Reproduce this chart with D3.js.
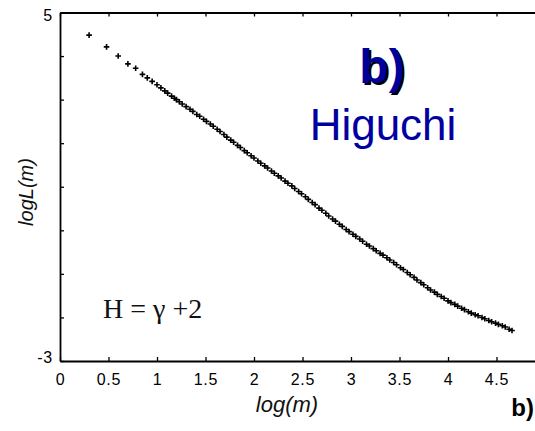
<!DOCTYPE html>
<html><head><meta charset="utf-8">
<script src="https://cdn.jsdelivr.net/npm/d3@7"></script>
<style>html,body{margin:0;padding:0;background:#fff;}svg{display:block;}</style>
</head><body>
<script>
// log(m) values
const logM = [0.30,0.48,0.60,0.70,0.78,0.85,0.90,0.95,1.00,1.04,1.08,1.11,1.15,1.18,1.20,1.23,1.26,
1.30,1.34,1.37,1.41,1.44,1.48,1.51,1.55,1.58,1.62,1.65,1.69,1.72,1.76,1.79,1.83,1.86,1.90,1.93,1.97,
2.00,2.04,2.07,2.11,2.14,2.18,2.21,2.25,2.28,2.32,2.35,2.39,2.42,2.46,2.49,2.53,2.56,2.60,2.63,2.67,
2.70,2.74,2.77,2.81,2.84,2.88,2.91,2.95,2.98,3.02,3.05,3.09,3.12,3.16,3.19,3.23,3.26,3.30,3.33,3.37,
3.40,3.44,3.47,3.51,3.54,3.58,3.61,3.65,3.68,3.72,3.75,3.79,3.82,3.86,3.89,3.93,3.96,4.00,4.03,4.07,
4.10,4.14,4.17,4.21,4.24,4.28,4.31,4.35,4.38,4.42,4.45,4.49,4.52,4.56,4.59,4.63,4.66];
// log L(m) values
const logL = [4.48,4.21,4.00,3.82,3.72,3.58,3.50,3.42,3.34,3.27,3.20,3.15,3.08,3.03,3.00,2.95,2.90,
2.84,2.78,2.73,2.66,2.62,2.55,2.50,2.44,2.39,2.32,2.27,2.20,2.14,2.07,2.02,1.95,1.90,1.83,1.78,1.71,
1.66,1.59,1.54,1.48,1.43,1.36,1.31,1.25,1.20,1.13,1.08,1.02,0.96,0.89,0.84,0.77,0.71,0.64,0.59,0.51,
0.46,0.39,0.33,0.26,0.21,0.14,0.09,0.02,-0.03,-0.09,-0.14,-0.20,-0.25,-0.32,-0.36,-0.42,-0.47,-0.53,-0.57,-0.63,
-0.68,-0.74,-0.79,-0.86,-0.90,-0.97,-1.02,-1.08,-1.14,-1.20,-1.25,-1.32,-1.37,-1.42,-1.47,-1.52,-1.56,-1.62,-1.66,-1.70,
-1.74,-1.79,-1.82,-1.87,-1.90,-1.94,-1.96,-2.00,-2.03,-2.07,-2.10,-2.13,-2.16,-2.19,-2.22,-2.27,-2.30];
const xTicks = [0,0.5,1,1.5,2,2.5,3,3.5,4,4.5,5];
const yTicks = [-3,-2,-1,0,1,2,3,4,5];
const yLabeled = [5,-3];
const xTitle = "log(m)";
const yTitle = "logL(m)";
const panelLabel = "b)";
const methodName = "Higuchi";
const formula = "H = \u03B3 +2";

const W = 535, H = 431;
const svg = d3.select("body").append("svg").attr("width", W).attr("height", H);
const x = d3.scaleLinear().domain([0,5]).range([60,545]);
const y = d3.scaleLinear().domain([-3,5]).range([361,12.5]);

const font = "'Liberation Sans', Arial, sans-serif";

// bottom axis
const gx = svg.append("g").attr("transform", `translate(0,${y(-3)})`)
  .call(d3.axisBottom(x).tickValues(xTicks).tickSizeInner(-4).tickSizeOuter(0).tickPadding(13)
    .tickFormat(d => String(d)));
// top axis
svg.append("g").attr("transform", `translate(0,${y(5)})`)
  .call(d3.axisTop(x).tickValues(xTicks).tickSizeInner(-4).tickSizeOuter(0).tickFormat(""));
// left axis
const gy = svg.append("g").attr("transform", `translate(${x(0)},0)`)
  .call(d3.axisLeft(y).tickValues(yTicks).tickSizeInner(-4).tickSizeOuter(0).tickPadding(7)
    .tickFormat(d => yLabeled.includes(d) ? String(d) : ""));
// right axis
svg.append("g").attr("transform", `translate(${x(5)},0)`)
  .call(d3.axisRight(y).tickValues(yTicks).tickSizeInner(-4).tickSizeOuter(0).tickFormat(""));

svg.selectAll(".domain").attr("stroke","#000").attr("stroke-width",1.8);
svg.selectAll(".tick line").attr("stroke","#000").attr("stroke-width",1.3);
svg.selectAll(".tick text").attr("font-family",font).attr("font-size",16).attr("fill","#000")
  .attr("letter-spacing","0.8px");
gy.selectAll(".tick text").attr("font-size",16);
gy.selectAll(".tick").filter(d => d===5).select("text").attr("dy","0.5em");
gy.selectAll(".tick").filter(d => d===-3).select("text").attr("dy","0.1em");

// points
const pts = logM.map((m,i) => [m, logL[i]]);
const s = 2.8;
svg.append("g").selectAll("path").data(pts).enter().append("path")
  .attr("d", d => {const cx = x(d[0]), cy = y(d[1]);
    return `M${cx-s},${cy}H${cx+s}M${cx},${cy-s}V${cy+s}`;})
  .attr("stroke","#000").attr("stroke-width",1.6).attr("fill","none");

// axis titles
svg.append("text").attr("x",287).attr("y",412).attr("text-anchor","middle")
  .attr("font-family",font).attr("font-style","italic").attr("font-size",22).attr("fill","#111")
  .text(xTitle);
svg.append("text").attr("transform","translate(33,192) rotate(-90)").attr("text-anchor","middle")
  .attr("font-family",font).attr("font-style","italic").attr("font-size",20).attr("fill","#111")
  .text(yTitle);

// formula
svg.append("text").attr("x",103).attr("y",318)
  .attr("font-family","'Liberation Serif', 'Times New Roman', serif").attr("font-size",28).attr("fill","#111")
  .text(formula);

// panel labels
svg.append("text").attr("x",384).attr("y",85).attr("text-anchor","middle")
  .attr("font-family",font).attr("font-weight","bold").attr("font-size",48).attr("fill","#000")
  .text(panelLabel);
svg.append("text").attr("x",382).attr("y",83).attr("text-anchor","middle")
  .attr("font-family",font).attr("font-weight","bold").attr("font-size",48).attr("fill","#00009a")
  .text(panelLabel);
svg.append("text").attr("x",383).attr("y",140).attr("text-anchor","middle")
  .attr("font-family",font).attr("font-size",44).attr("fill","#0000a0")
  .text(methodName);
svg.append("text").attr("x",534).attr("y",416).attr("text-anchor","end")
  .attr("font-family",font).attr("font-weight","bold").attr("font-size",24).attr("fill","#000")
  .text(panelLabel);
</script>
</body></html>
